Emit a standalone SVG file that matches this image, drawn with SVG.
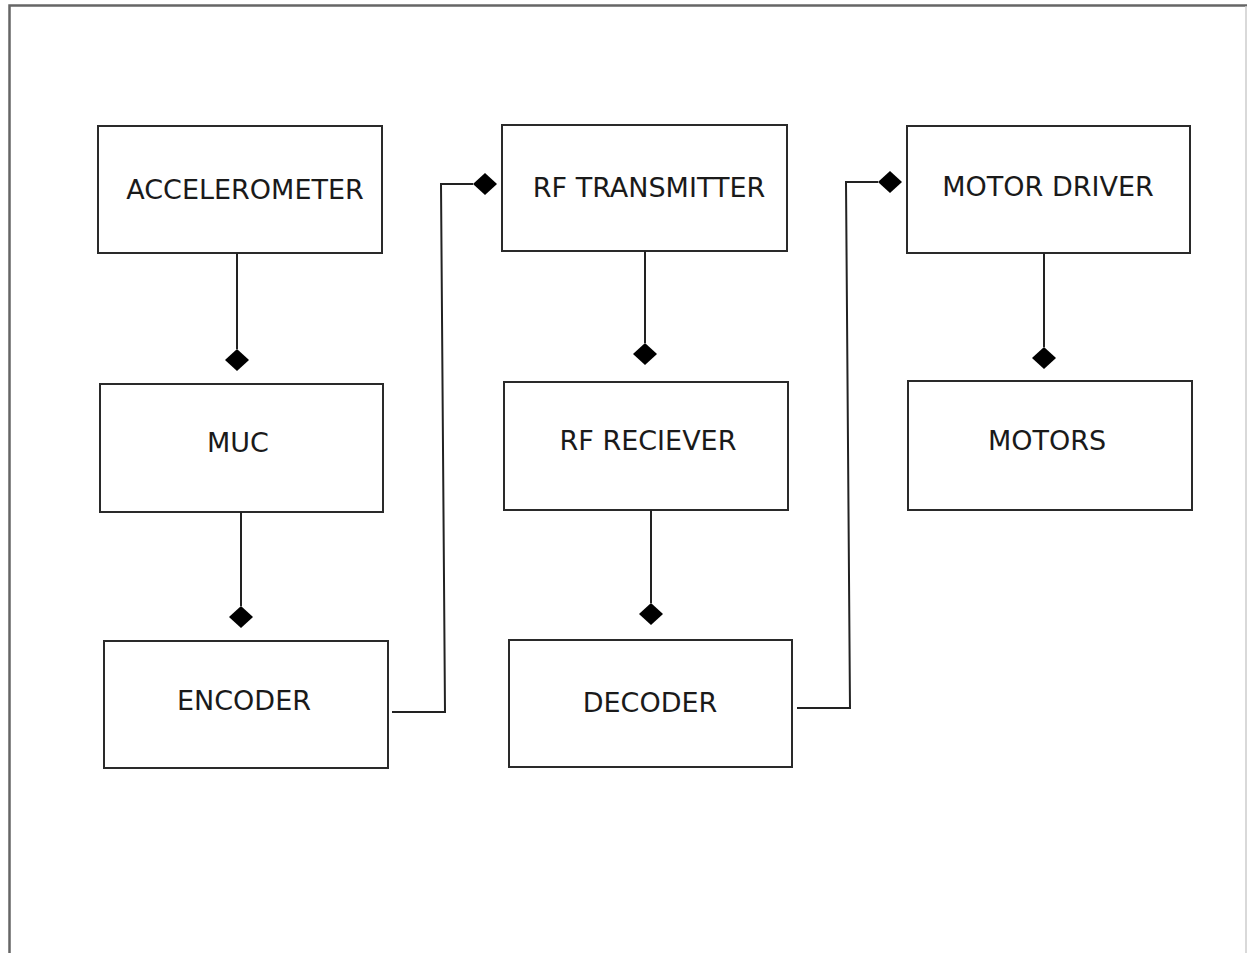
<svg xmlns="http://www.w3.org/2000/svg" width="1247" height="953" viewBox="0 0 1247 953">
<defs>
<style>
.box{fill:#fff;stroke:#2a2a2a;stroke-width:2}
.lbl{font-family:"DejaVu Sans",sans-serif;font-size:27px;fill:#1a1a1a;text-anchor:middle}
.con{fill:none;stroke:#222;stroke-width:2}
.dia{fill:#000}
</style>
</defs>
<rect width="1247" height="953" fill="#fff"/>
<path d="M9.5,953 V5.5 H1247" fill="none" stroke="#666" stroke-width="2.5"/>
<line x1="1246" y1="6" x2="1246" y2="953" stroke="#ccc" stroke-width="1.5"/>
<g id="accelerometer"><rect class="box" x="98" y="126" width="284" height="127"/><text class="lbl" x="245" y="199">ACCELEROMETER</text></g>
<g id="muc"><rect class="box" x="100" y="384" width="283" height="128"/><text class="lbl" x="238" y="452">MUC</text></g>
<g id="encoder"><rect class="box" x="104" y="641" width="284" height="127"/><text class="lbl" x="244" y="710">ENCODER</text></g>
<g id="rf-transmitter"><rect class="box" x="502" y="125" width="285" height="126"/><text class="lbl" x="649" y="197">RF TRANSMITTER</text></g>
<g id="rf-reciever"><rect class="box" x="504" y="382" width="284" height="128"/><text class="lbl" x="648" y="450">RF RECIEVER</text></g>
<g id="decoder"><rect class="box" x="509" y="640" width="283" height="127"/><text class="lbl" x="650" y="712">DECODER</text></g>
<g id="motor-driver"><rect class="box" x="907" y="126" width="283" height="127"/><text class="lbl" x="1048" y="196">MOTOR DRIVER</text></g>
<g id="motors"><rect class="box" x="908" y="381" width="284" height="129"/><text class="lbl" x="1047" y="450">MOTORS</text></g>
<g id="connectors">
<path class="con" d="M237,253 V349"/>
<path class="dia" d="M237,349 L249,360 L237,371 L225,360 Z"/>
<path class="con" d="M241,512 V606"/>
<path class="dia" d="M241,606 L253,617 L241,628 L229,617 Z"/>
<path class="con" d="M645,251 V343"/>
<path class="dia" d="M645,343 L657,354 L645,365 L633,354 Z"/>
<path class="con" d="M651,510 V603"/>
<path class="dia" d="M651,603 L663,614 L651,625 L639,614 Z"/>
<path class="con" d="M1044,253 V347"/>
<path class="dia" d="M1044,347 L1056,358 L1044,369 L1032,358 Z"/>
<path class="con" d="M392,712 H445 L441,184 H473"/>
<path class="dia" d="M473,184 L485,173 L497,184 L485,195 Z"/>
<path class="con" d="M797,708 H850 L846,182 H878"/>
<path class="dia" d="M878,182 L890,171 L902,182 L890,193 Z"/>
</g>
</svg>
